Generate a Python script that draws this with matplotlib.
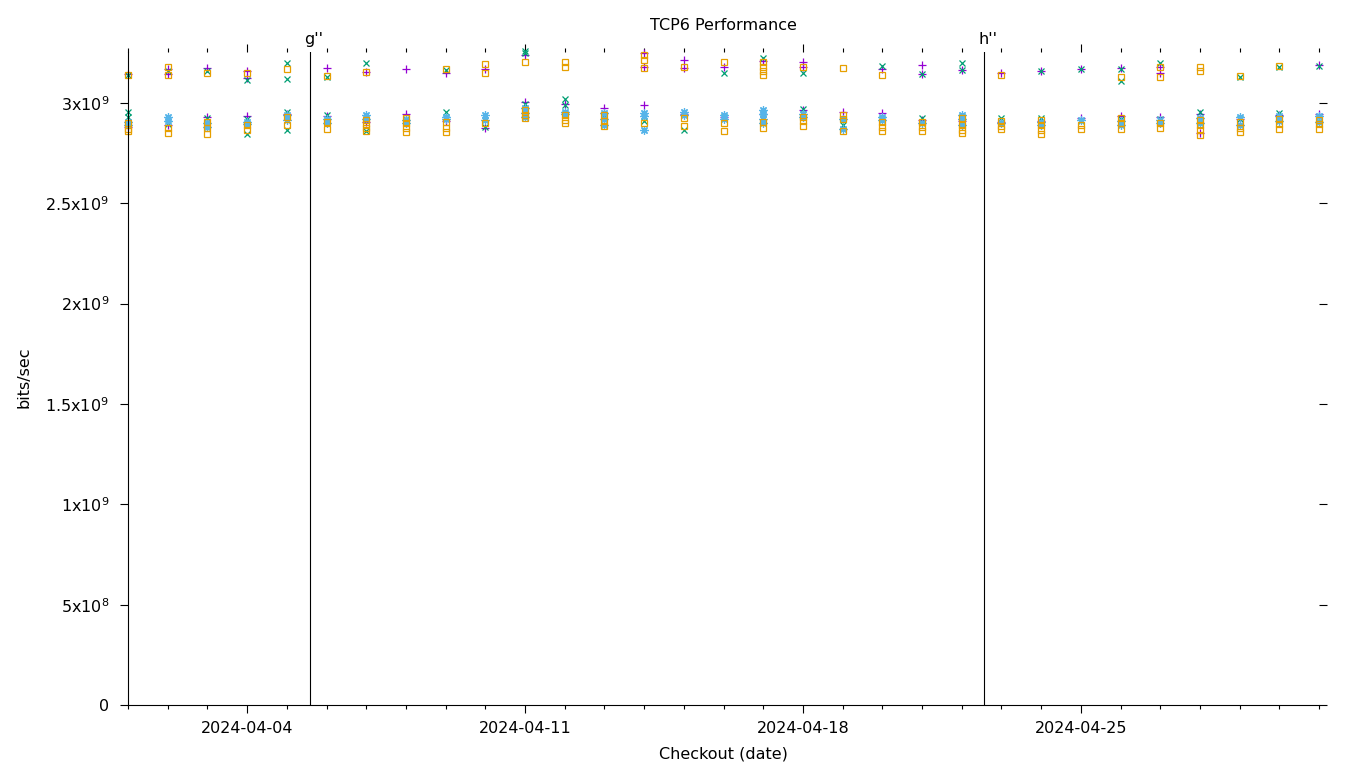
import matplotlib
matplotlib.use("Agg")
import matplotlib.pyplot as plt
import matplotlib.dates as mdates
import matplotlib.ticker as mticker
import numpy as np
import pandas as pd

dates = pd.date_range("2024-04-01", "2024-05-01", freq="D")

# per-date measurements (bits/sec) for each series
purple_plus = [
    [3.145e9, 2.88e9], [3.17e9, 3.145e9, 2.89e9], [3.175e9, 2.93e9], [3.16e9, 3.125e9, 2.935e9],
    [2.945e9], [3.175e9, 2.935e9], [3.155e9, 2.905e9], [3.17e9, 2.945e9], [3.15e9, 2.91e9],
    [3.17e9, 2.875e9], [3.24e9, 3.005e9], [2.995e9], [2.975e9], [3.25e9, 3.18e9, 2.99e9],
    [3.215e9, 3.175e9, 2.945e9], [3.18e9, 2.93e9], [3.21e9, 2.945e9], [3.205e9, 3.18e9, 2.965e9],
    [2.955e9], [3.17e9, 2.95e9], [3.19e9, 3.145e9, 2.915e9], [3.165e9, 2.91e9], [3.15e9, 2.905e9],
    [3.16e9, 2.91e9], [3.17e9, 2.925e9], [3.175e9, 2.935e9], [3.18e9, 3.15e9, 2.93e9],
    [2.945e9, 2.85e9], [2.92e9], [2.94e9], [3.19e9, 2.945e9],
]
green_x = [
    [3.14e9, 2.955e9, 2.93e9], [3.16e9, 2.895e9], [3.16e9, 2.925e9], [3.115e9, 2.92e9, 2.845e9],
    [3.20e9, 3.12e9, 2.955e9, 2.865e9], [3.13e9, 2.94e9], [3.20e9, 2.86e9], [2.92e9],
    [3.165e9, 2.955e9], [2.88e9], [3.26e9, 3.25e9, 2.995e9], [3.02e9, 2.99e9], [2.935e9],
    [2.91e9], [2.865e9], [3.15e9, 2.93e9], [3.225e9, 2.95e9], [3.15e9, 2.97e9], [2.89e9],
    [3.185e9, 2.92e9], [3.145e9, 2.925e9], [3.20e9, 3.165e9, 2.93e9], [2.925e9],
    [3.16e9, 2.925e9], [3.17e9, 2.91e9], [3.17e9, 3.11e9, 2.92e9], [3.20e9, 2.92e9], [2.955e9],
    [3.13e9, 2.92e9], [3.18e9, 2.95e9], [3.185e9, 2.93e9],
]
blue_star = [
    [2.905e9, 2.89e9], [2.93e9, 2.91e9], [2.90e9, 2.88e9], [2.905e9, 2.895e9], [2.94e9, 2.915e9],
    [2.90e9, 2.92e9], [2.94e9, 2.92e9], [2.915e9, 2.90e9], [2.93e9, 2.92e9], [2.94e9, 2.915e9],
    [2.975e9, 2.95e9, 2.93e9], [2.955e9, 2.945e9], [2.95e9, 2.92e9, 2.89e9],
    [2.95e9, 2.935e9, 2.865e9], [2.955e9, 2.94e9], [2.94e9, 2.92e9],
    [2.965e9, 2.945e9, 2.92e9, 2.90e9], [2.945e9, 2.93e9], [2.92e9, 2.87e9], [2.93e9, 2.915e9],
    [2.90e9], [2.94e9, 2.92e9, 2.89e9], [2.90e9], [2.905e9, 2.89e9], [2.915e9], [2.91e9, 2.89e9],
    [2.915e9, 2.90e9], [2.925e9, 2.90e9], [2.93e9, 2.89e9], [2.935e9, 2.91e9], [2.935e9, 2.905e9],
]
orange_square = [
    [3.14e9, 2.90e9, 2.87e9, 2.86e9], [3.18e9, 3.14e9, 2.875e9, 2.85e9],
    [3.15e9, 2.905e9, 2.875e9, 2.845e9], [3.15e9, 2.89e9, 2.865e9], [3.17e9, 2.93e9, 2.89e9],
    [3.135e9, 2.905e9, 2.87e9], [3.155e9, 2.915e9, 2.895e9, 2.875e9, 2.86e9],
    [2.925e9, 2.90e9, 2.875e9, 2.855e9], [3.17e9, 2.905e9, 2.875e9, 2.855e9],
    [3.195e9, 3.15e9, 2.90e9], [3.205e9, 2.965e9, 2.94e9, 2.925e9],
    [3.205e9, 3.18e9, 2.94e9, 2.915e9, 2.90e9], [2.94e9, 2.91e9, 2.885e9],
    [3.24e9, 3.215e9, 3.175e9, 2.90e9], [3.18e9, 2.925e9, 2.885e9], [3.205e9, 2.90e9, 2.86e9],
    [3.205e9, 3.18e9, 3.16e9, 3.14e9, 2.905e9, 2.875e9], [3.18e9, 2.93e9, 2.91e9, 2.885e9],
    [3.175e9, 2.94e9, 2.92e9, 2.86e9], [3.14e9, 2.905e9, 2.88e9, 2.86e9],
    [2.905e9, 2.88e9, 2.86e9], [2.925e9, 2.89e9, 2.865e9, 2.85e9],
    [3.14e9, 2.91e9, 2.885e9, 2.87e9], [2.915e9, 2.89e9, 2.865e9, 2.845e9], [2.89e9, 2.87e9],
    [3.13e9, 2.925e9, 2.90e9, 2.87e9], [3.18e9, 3.13e9, 2.90e9, 2.875e9],
    [3.18e9, 3.16e9, 2.915e9, 2.89e9, 2.865e9, 2.84e9], [3.135e9, 2.905e9, 2.875e9, 2.855e9],
    [3.185e9, 2.92e9, 2.895e9, 2.87e9], [2.915e9, 2.895e9, 2.87e9],
]

markers_dates = ["2024-04-05 14:00", "2024-04-22 13:30"]
markers_labels = ["g''", "h''"]

x_major_ticks = ["2024-04-04", "2024-04-11", "2024-04-18", "2024-04-25"]
y_ticks = [0, 5e8, 1e9, 1.5e9, 2e9, 2.5e9, 3e9]
y_tick_labels = ["0", r"5x10$^{8}$", r"1x10$^{9}$", r"1.5x10$^{9}$", r"2x10$^{9}$",
                 r"2.5x10$^{9}$", r"3x10$^{9}$"]

plt.rcParams["font.family"] = ["DejaVu Sans"]
plt.rcParams["mathtext.fontset"] = "dejavusans"

FS = 11.5

fig = plt.figure(figsize=(13.6, 7.68), dpi=100)
ax = fig.add_axes([128 / 1360, 1 - 705 / 768, (1319 - 128) / 1360, (705 - 52) / 768])

series = [
    (purple_plus, "#9400d3", "+", 6.0, dict()),
    (green_x, "#009e73", "x", 5.0, dict()),
    (blue_star, "#56b4e9", (8, 2, 0), 6.0, dict()),
    (orange_square, "#e69f00", "s", 4.6, dict(markerfacecolor="none")),
]
for data, color, mk, ms, extra in series:
    xs, ys = [], []
    for d, vals in zip(dates, data):
        for v in vals:
            xs.append(d)
            ys.append(v)
    ax.plot(xs, ys, linestyle="none", marker=mk, color=color, markersize=ms,
            markeredgewidth=0.9, clip_on=False, **extra)

for dstr, lab in zip(markers_dates, markers_labels):
    d = pd.Timestamp(dstr)
    ax.axvline(d, color="black", linewidth=0.8)
    ax.annotate(lab, xy=(d, 1.0), xycoords=("data", "axes fraction"),
                xytext=(-4, 6), textcoords="offset points", ha="left", va="baseline",
                fontsize=FS)

ax.set_xlim(pd.Timestamp("2024-04-01"), pd.Timestamp("2024-05-01"))
ax.set_ylim(0, 3.254e9)

ax.xaxis.set_major_locator(mticker.FixedLocator(mdates.date2num(pd.to_datetime(x_major_ticks))))
ax.xaxis.set_major_formatter(mdates.DateFormatter("%Y-%m-%d"))
ax.xaxis.set_minor_locator(mdates.DayLocator())
ax.set_yticks(y_ticks)
ax.set_yticklabels(y_tick_labels)

ax.spines["top"].set_visible(False)
ax.spines["right"].set_visible(False)
for s in ("left", "bottom"):
    ax.spines[s].set_linewidth(0.8)

ax.tick_params(axis="both", which="major", direction="out", length=5.5, width=0.8,
               labelsize=FS, top=True, right=True, pad=6)
ax.tick_params(axis="x", which="minor", direction="out", length=3, width=0.8, top=True)
ax.tick_params(axis="y", which="minor", left=False, right=False)
ax.tick_params(axis="y", which="major", pad=8)

fig.text(723 / 1360, 1 - 25 / 768, "TCP6 Performance", ha="center", va="center", fontsize=FS)
fig.text(723 / 1360, 1 - 754 / 768, "Checkout (date)", ha="center", va="center", fontsize=FS)
fig.text(24 / 1360, 1 - 377 / 768, "bits/sec", ha="center", va="center", rotation=90, fontsize=FS)

fig.savefig("out.png", dpi=100)
